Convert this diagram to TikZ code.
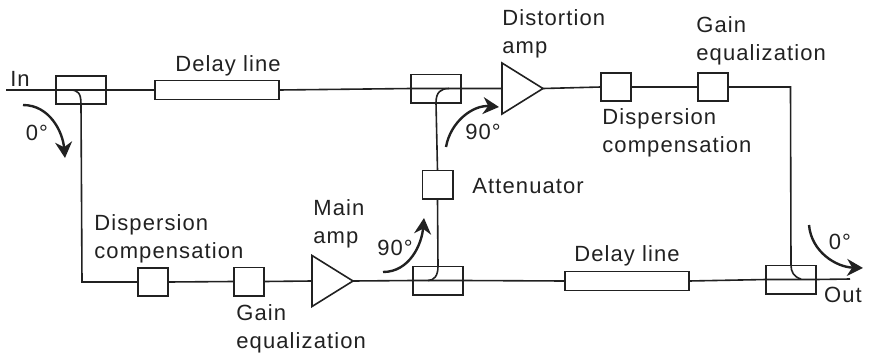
\documentclass[tikz,border=0pt]{standalone}
\usepackage{fontspec}
\setmainfont[LetterSpace=5]{Liberation Sans}
\usepackage{xcolor}
\usetikzlibrary{shapes.geometric,arrows.meta,positioning}
\definecolor{inkdark}{gray}{0.13}
\tikzset{
  line/.style={draw=inkdark, line width=0.8pt},
  coupler/.style={line, fill=white, minimum width=25pt, minimum height=14.2pt, inner sep=0pt, outer sep=0pt},
  unitbox/.style={line, fill=white, minimum width=15.2pt, minimum height=14.2pt, inner sep=0pt, outer sep=0pt},
  delaybox/.style={line, fill=white, minimum width=62pt, minimum height=9.5pt, inner sep=0pt, outer sep=0pt},
  amp/.style={line, fill=white, isosceles triangle, isosceles triangle stretches, shape border rotate=0,
    minimum width=25.5pt, minimum height=20.5pt, inner sep=0pt, outer sep=0pt, anchor=west},
  phase/.style={draw=inkdark, line width=1.2pt, -{Stealth[length=8pt,width=8.5pt]}},
  lbl/.style={text=inkdark, font=\fontsize{11}{14}\selectfont, inner sep=0pt},
  lblleft/.style={lbl, anchor=west, align=left},
}
\begin{document}
\begin{tikzpicture}[x=0.5pt, y=-0.5pt]
  \useasboundingbox (0,0) rectangle (869,354);
  % feed lines first, the boxes sit on top of them
  \coordinate (inEnd) at (6,90);
  \coordinate (outEnd) at (850,279);
  \coordinate (cornerTop) at (790.5,87);
  \coordinate (cornerBot) at (82,282);
  % couplers
  \foreach \n/\x/\y in {couplerIn/81/90,couplerDist/436/88.5,couplerMain/438/280.5,couplerOut/791/279.5} {
    \node[coupler] (\n) at (\x,\y) {};
  }
  % small boxes
  \foreach \n/\x/\y in {dispLow/153/282,gainLow/249/281.5,dispTop/616/87,gainTop/713/87,atten/437.5/184.5} {
    \node[unitbox] (\n) at (\x,\y) {};
  }
  \node[delaybox] (delayTop) at (217,90) {};
  \node[delaybox] (delayBot) at (627,281) {};
  \node[amp] (ampMain) at (312,281) {};
  \node[amp] (ampDist) at (502,88.5) {};
  % connectors
  \draw[line, line width=0.9pt] (inEnd) -- (couplerIn.west);
  \draw[line] (couplerIn.west) -- (couplerIn.east) -- (delayTop.west);
  \draw[line] (delayTop.east) -- (couplerDist.west) -- (couplerDist.east) -- (ampDist.west);
  \draw[line] (ampDist.east) -- (dispTop.west);
  \draw[line] (dispTop.east) -- (gainTop.west);
  \draw[line] (gainTop.east) -- (cornerTop) -- (couplerOut.north);
  \draw[line] (couplerIn.south) -- (cornerBot) -- (dispLow.west);
  \draw[line] (dispLow.east) -- (gainLow.west);
  \draw[line] (gainLow.east) -- (ampMain.west);
  \draw[line] (ampMain.east) -- (couplerMain.west) -- (couplerMain.east) -- (delayBot.west);
  \draw[line] (delayBot.east) -- (couplerOut.west) -- (couplerOut.east) -- (outEnd);
  \draw[line] (couplerDist.south) -- (atten.north);
  \draw[line] (atten.south) -- (couplerMain.north);
  % bends inside the couplers
  \draw[line] (70,90) .. controls (78,90) and (81,93) .. (couplerIn.south);
  \draw[line] (449,88.5) .. controls (441,88.5) and (436,92) .. (couplerDist.south);
  \draw[line] (428,280.5) .. controls (434,280.5) and (438,276) .. (couplerMain.north);
  \draw[line] (couplerOut.north) .. controls (791,272) and (794,277) .. (801,279);
  % phase arrows
  \coordinate (phaseA) at (23,105);
  \coordinate (phaseB) at (65,158);
  \coordinate (phaseC) at (446,147);
  \coordinate (phaseD) at (499,107);
  \coordinate (phaseE) at (383,272);
  \coordinate (phaseF) at (424,218);
  \coordinate (phaseG) at (809,225);
  \coordinate (phaseH) at (863,268);
  \draw[phase] (phaseA) to[out=0, in=95] (phaseB);
  \draw[phase] (phaseC) to[out=80, in=175] (phaseD);
  \draw[phase] (phaseE) to[out=0, in=-95] (phaseF);
  \draw[phase] (phaseG) to[out=-85, in=178] (phaseH);
  % labels
  \node[lbl] (lblIn) at (20,79) {In};
  \node[lbl] (lblOut) at (843,295) {Out};
  \node[lbl] (lblZeroA) at (37,133) {0°};
  \node[lbl] (lblZeroB) at (840,242) {0°};
  \node[lbl] (lblNinetyA) at (483,132) {90°};
  \node[lbl] (lblNinetyB) at (395,248) {90°};
  \node[lbl] (lblDelayTop) at (228,66) {Delay line};
  \node[lbl] (lblDelayBot) at (627,256) {Delay line};
  \node[lblleft] (lblAtten) at (472,186) {Attenuator};
  \node[lblleft] (lblDist) at (502,34) {Distortion\\amp};
  \node[lblleft] (lblGainTop) at (696,41) {Gain\\equalization};
  \node[lblleft] (lblDispTop) at (602,133) {Dispersion\\compensation};
  \node[lblleft] (lblDispLow) at (94,239) {Dispersion\\compensation};
  \node[lblleft] (lblMain) at (313,224) {Main\\amp};
  \node[lblleft] (lblGainLow) at (236,329) {Gain\\equalization};
\end{tikzpicture}
\end{document}
